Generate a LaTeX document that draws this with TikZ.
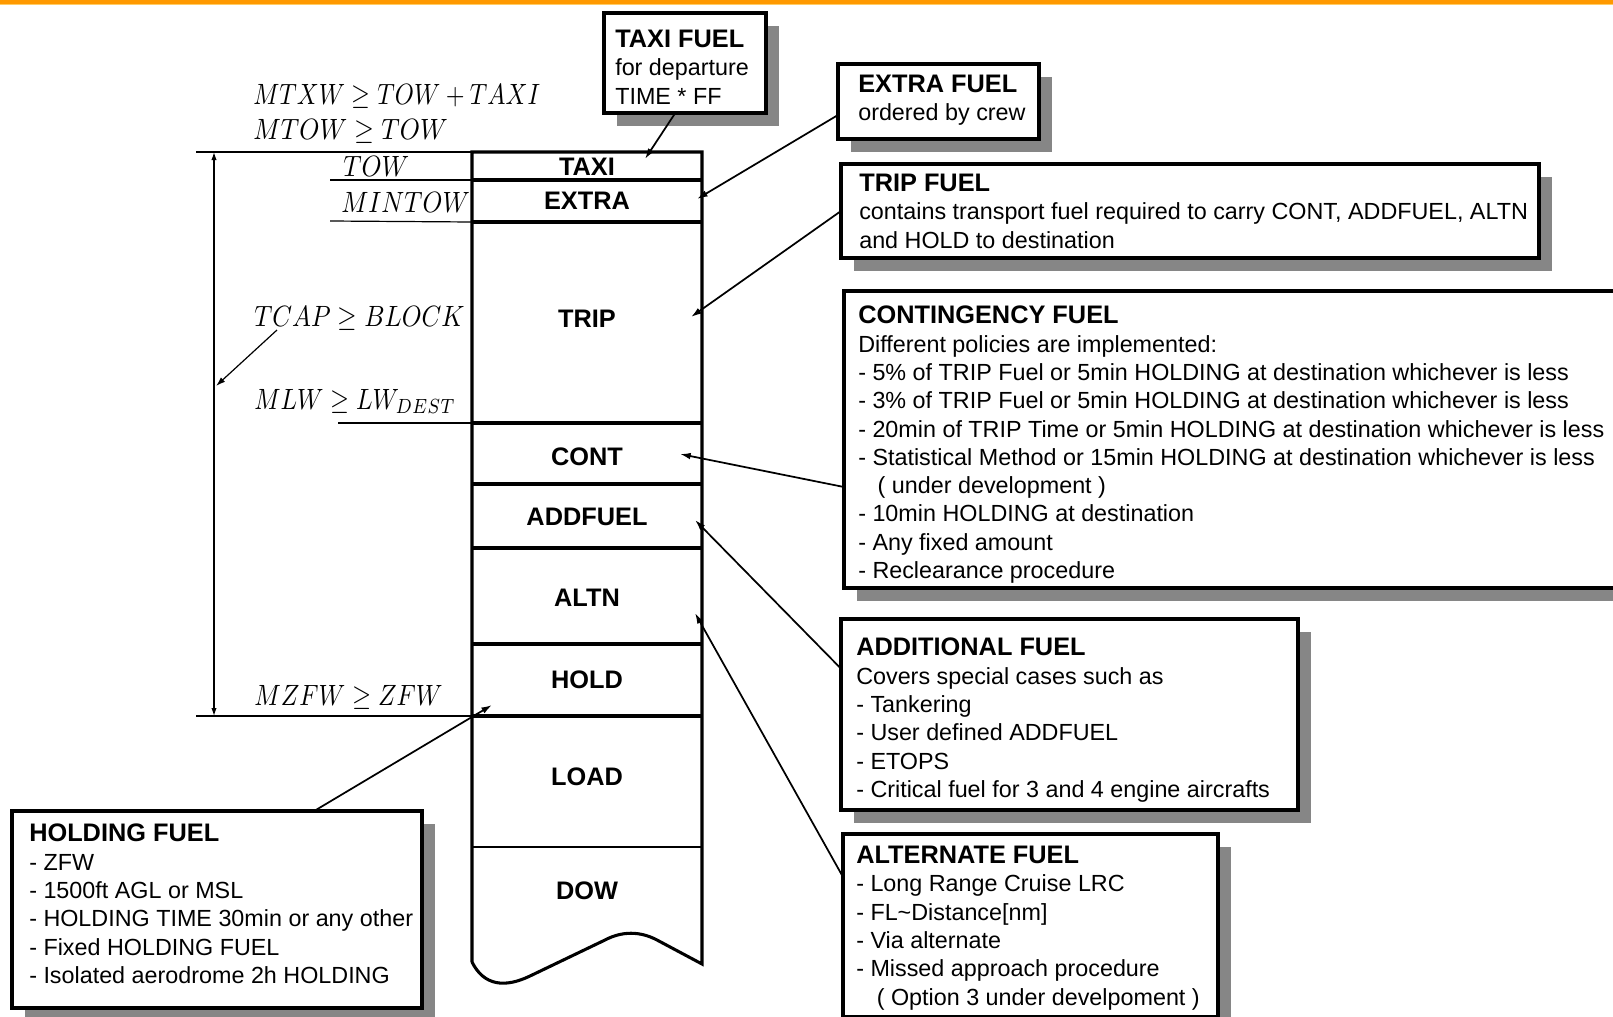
\documentclass[tikz,border=0pt]{standalone}
\usepackage{graphicx}
\usepackage[no-math]{fontspec}
\newfontfamily\arial{Liberation Sans}
\usetikzlibrary{arrows.meta,shadows,calc}
\definecolor{orangebar}{RGB}{255,153,0}
\definecolor{orangelight}{RGB}{255,204,102}
\definecolor{shadowgray}{RGB}{134,134,134}
\newcommand{\ttl}{\fontsize{19}{21.2}\selectfont\bfseries}
\newcommand{\lblmath}[2]{\scalebox{#1}[2.2]{$#2$}}
\begin{document}
\begin{tikzpicture}[x=0.75pt,y=-0.75pt,
  fbox/.style={draw=black, line width=2.3pt, fill=white, rectangle, inner sep=0pt, outer sep=0pt,
     drop shadow={shadow xshift=9.75pt, shadow yshift=-9.75pt, fill=shadowgray, opacity=1}},
  boxtext/.style={anchor=north west, align=left, inner sep=0pt, font=\arial\fontsize{17.5}{21.2}\selectfont},
  seg/.style={rectangle, inner sep=0pt, outer sep=0pt, minimum width=172.5pt},
  segtext/.style={inner sep=0pt, font=\arial\fontsize{19}{22}\selectfont\bfseries},
  mathlbl/.style={anchor=base west, inner sep=0pt, font=\fontsize{10}{12}\selectfont},
  conn/.style={line width=1.3pt, -{Latex[length=8pt,width=5pt]}},
  thinline/.style={line width=0.9pt},
  sepline/.style={line width=2.6pt},
]
\useasboundingbox (0,0) rectangle (1613,1017);
\fill[white] (0,0) rectangle (1613,1017);
\fill[orangebar] (0,0) rectangle (1613,4.3);
\fill[orangelight] (0,4.3) rectangle (1613,5.3);

% ---- fuel column ----
\node[seg, minimum height=21pt]     (taxi)   at (587,166)   {};
\node[seg, minimum height=31.5pt]   (extra)  at (587,201)   {};
\node[seg, minimum height=150.75pt] (trip)   at (587,322.5) {};
\node[seg, minimum height=45.75pt]  (cont)   at (587,453.5) {};
\node[seg, minimum height=48pt]     (addf)   at (587,516)   {};
\node[seg, minimum height=72pt]     (altn)   at (587,596)   {};
\node[seg, minimum height=54pt]     (hold)   at (587,680)   {};
\node[seg, minimum height=98.25pt]  (load)   at (587,781.5) {};
\node[segtext] (taxil)  at ($(taxi.center)+(0,0.5)$)  {TAXI};
\node[segtext] (extral) at ($(extra.center)+(0,-0.5)$) {EXTRA};
\node[segtext] (tripl)  at ($(trip.center)+(0,-3.5)$)  {TRIP};
\node[segtext] (contl)  at ($(cont.center)+(0,3.5)$)   {CONT};
\node[segtext] (addfl)  at ($(addf.center)+(0,1)$)     {ADDFUEL};
\node[segtext] (altnl)  at ($(altn.center)+(0,2)$)     {ALTN};
\node[segtext] (holdl)  at (hold.center)               {HOLD};
\node[segtext] (loadl)  at ($(load.center)+(0,-5)$)    {LOAD};
\node[segtext] (dow)    at (587,891)                   {DOW};

\draw[line width=2.3pt, line join=miter]
  (472,962) -- (taxi.north west) -- (taxi.north east) -- (702,964)
  -- (657,940) .. controls (640,931) and (622,931) .. (605,940)
  -- (530,976) .. controls (505,988) and (484,986) .. (472,962);
\foreach \s in {taxi,extra,trip,cont,addf,altn,hold}
  \draw[sepline] (\s.south west) -- (\s.south east);
\draw[line width=1.1pt] (load.south west) -- (load.south east);

% ---- left scale ----
\coordinate (l1) at (196,152);
\coordinate (l2) at (330,180);
\coordinate (l3) at (330,221);
\coordinate (l4) at (338,423);
\coordinate (l5) at (196,716);
\draw[thinline] (l1) -- (taxi.north west);
\draw[thinline] (l2) -- (taxi.south west);
\draw[thinline] (l3) -- (extra.south west);
\draw[thinline] (l4) -- (trip.south west);
\draw[thinline] (l5) -- (hold.south west);
\coordinate (vtop) at (214,152);
\coordinate (vbot) at (214,716);
\draw[thinline, {Latex[length=6pt,width=4pt]}-{Latex[length=6pt,width=4pt]}] (vtop) -- (vbot);

\node[mathlbl] (mtxw)   at (253,104.5) {\lblmath{1.817}{MTXW \geq TOW + TAXI}};
\node[mathlbl] (mtow)   at (253,139.5) {\lblmath{1.918}{MTOW \geq TOW}};
\node[mathlbl] (tow)    at (343,176)   {\lblmath{1.908}{TOW}};
\node[mathlbl] (mintow) at (341,212.5) {\lblmath{1.89}{MINTOW}};
\node[mathlbl] (tcap)   at (254,326)   {\lblmath{1.888}{TCAP \geq BLOCK}};
\node[mathlbl] (mlw)    at (254,409)   {\lblmath{1.829}{MLW \geq LW_{DEST}}};
\node[mathlbl] (mzfw)   at (254,705)   {\lblmath{1.847}{MZFW \geq ZFW}};

\coordinate (tcapfoot) at (277,330);
\coordinate (tcaptip) at (216,386);
\draw[thinline, -{Latex[length=7pt,width=4.5pt]}] (tcapfoot) -- (tcaptip);

% ---- description boxes ----
\node[fbox, minimum width=121.5pt, minimum height=75pt] (taxifuel) at (685,63) {};
\node[boxtext] (taxifueltxt) at (615,30) {{\ttl TAXI FUEL}\\for departure\\TIME * FF};

\node[fbox, minimum width=150.75pt, minimum height=56.25pt] (extrafuel) at (938.5,101.5) {};
\node[boxtext] (extrafueltxt) at (858,75) {{\ttl EXTRA FUEL}\\ordered by crew};

\node[fbox, minimum width=523.5pt, minimum height=70.5pt] (tripfuel) at (1190,211) {};
\node[boxtext] (tripfueltxt) at (859,174) {{\ttl TRIP FUEL}\\contains transport fuel required to carry CONT, ADDFUEL, ALTN\\and HOLD to destination};

\node[fbox, minimum width=597pt, minimum height=222.75pt] (contfuel) at (1242,439.5) {};
\node[boxtext] (contfueltxt) at (858,306) {{\ttl CONTINGENCY FUEL}\\
Different policies are implemented:\\
- 5\% of TRIP Fuel or 5min HOLDING at destination whichever is less\\
- 3\% of TRIP Fuel or 5min HOLDING at destination whichever is less\\
- 20min of TRIP Time or 5min HOLDING at destination whichever is less\\
- Statistical Method or 15min HOLDING at destination whichever is less\\
\hspace*{14.6pt}( under development )\\
- 10min HOLDING at destination\\
- Any fixed amount\\
- Reclearance procedure};

\node[fbox, minimum width=342.75pt, minimum height=143.25pt] (addfuelbox) at (1069.5,714.5) {};
\node[boxtext] (addfueltxt) at (856,638) {{\ttl ADDITIONAL FUEL}\\
Covers special cases such as\\
- Tankering\\
- User defined ADDFUEL\\
- ETOPS\\
- Critical fuel for 3 and 4 engine aircrafts};

\node[fbox, minimum width=281.25pt, minimum height=137.25pt] (altfuel) at (1030.5,925.5) {};
\node[boxtext] (altfueltxt) at (856,846) {{\ttl ALTERNATE FUEL}\\
- Long Range Cruise LRC\\
- FL\textasciitilde Distance[nm]\\
- Via alternate\\
- Missed approach procedure\\
\hspace*{15.4pt}( Option 3 under develpoment )};

\node[fbox, minimum width=307.5pt, minimum height=147.75pt] (holdfuel) at (217,909.5) {};
\node[boxtext] (holdfueltxt) at (29,824) {{\ttl HOLDING FUEL}\\
- ZFW\\
- 1500ft AGL or MSL\\
- HOLDING TIME 30min or any other\\
- Fixed HOLDING FUEL\\
- Isolated aerodrome 2h HOLDING};

% ---- connectors ----
\coordinate (taxitip) at (645,159);
\coordinate (extratip) at (697,199);
\coordinate (triptip) at (691,317);
\coordinate (conttip) at (680,454);
\coordinate (addtip) at (695,520);
\coordinate (alttip) at (695,613);
\coordinate (holdtip) at (492,705);
\draw[conn] ($(taxifuel.south west)!0.44!(taxifuel.south east)$) -- (taxitip);
\draw[conn] ($(extrafuel.north west)!0.68!(extrafuel.south west)$) -- (extratip);
\draw[conn] (tripfuel.west) -- (triptip);
\draw[conn] ($(contfuel.north west)!0.66!(contfuel.south west)$) -- (conttip);
\draw[conn] ($(addfuelbox.north west)!0.26!(addfuelbox.south west)$) -- (addtip);
\draw[conn] ($(altfuel.north west)!0.235!(altfuel.south west)$) -- (alttip);
\draw[conn] ($(holdfuel.north west)!0.737!(holdfuel.north east)$) -- (holdtip);
\end{tikzpicture}
\end{document}
